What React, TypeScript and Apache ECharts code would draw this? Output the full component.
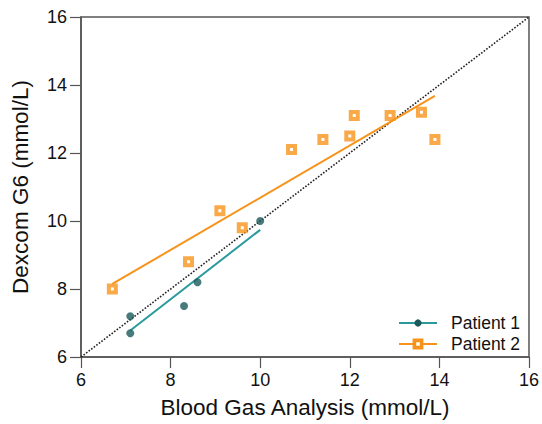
import React, { useEffect, useRef } from "react";
import * as echarts from "echarts";

const xTicks = [6, 8, 10, 12, 14, 16];
const yTicks = [6, 8, 10, 12, 14, 16];

const patient1: [number, number][] = [
  [7.1, 7.2],
  [7.1, 6.7],
  [8.3, 7.5],
  [8.6, 8.2],
  [10.0, 10.0],
];
const patient2: [number, number][] = [
  [6.7, 8.0],
  [8.4, 8.8],
  [9.1, 10.3],
  [9.6, 9.8],
  [10.7, 12.1],
  [11.4, 12.4],
  [12.0, 12.5],
  [12.1, 13.1],
  [12.9, 13.1],
  [13.6, 13.2],
  [13.9, 12.4],
];
const fit1: [number, number][] = [
  [7.1, 6.78],
  [10.0, 9.74],
];
const fit2: [number, number][] = [
  [6.7, 8.15],
  [13.9, 13.68],
];
const identity: [number, number][] = [
  [6, 6],
  [16, 16],
];

const TEAL_LINE = "#2a9a9c";
const TEAL_DOT = "#1c5a5c";
const ORANGE = "#f7931a";
const FONT = "Liberation Sans, Arial, sans-serif";

export default function App() {
  const ref = useRef<HTMLDivElement>(null);
  useEffect(() => {
    if (!ref.current) return;
    const chart = echarts.init(ref.current, undefined, { renderer: "svg" });
    const axisCommon = {
      type: "value" as const,
      interval: 2,
      nameLocation: "middle" as const,
      nameTextStyle: { fontSize: 22.5, color: "#111", fontFamily: FONT },
      axisLine: { show: true, lineStyle: { color: "#555", width: 1.5 } },
      axisTick: { show: true, length: 11, lineStyle: { color: "#555", width: 1.2 } },
      axisLabel: { fontSize: 18, color: "#111", fontFamily: FONT, margin: 14 },
      splitLine: { show: false },
    };
    chart.setOption({
      animation: false,
      backgroundColor: "#ffffff",
      grid: {
        left: 81,
        right: 11,
        top: 17,
        bottom: 66,
        show: true,
        borderColor: "#555",
        borderWidth: 1.5,
      },
      xAxis: {
        ...axisCommon,
        min: xTicks[0],
        max: xTicks[xTicks.length - 1],
        name: "Blood Gas Analysis (mmol/L)",
        nameGap: 39,
      },
      yAxis: {
        ...axisCommon,
        min: yTicks[0],
        max: yTicks[yTicks.length - 1],
        name: "Dexcom G6 (mmol/L)",
        nameGap: 49,
      },
      legend: [
        {
          orient: "vertical",
          left: 393,
          top: 309,
          itemWidth: 38,
          itemHeight: 9,
          textStyle: { fontSize: 17.5, color: "#111", fontFamily: FONT, padding: [0, 0, 0, 9] },
          data: [
            {
              name: "Patient 1",
              itemStyle: { color: TEAL_DOT, borderWidth: 0 },
              lineStyle: { color: TEAL_LINE, width: 2 },
            },
          ],
        },
        {
          orient: "vertical",
          left: 393,
          top: 330,
          itemWidth: 38,
          itemHeight: 9,
          textStyle: { fontSize: 17.5, color: "#111", fontFamily: FONT, padding: [0, 0, 0, 9] },
          data: [
            {
              name: "Patient 2",
              itemStyle: { color: "#fff", borderColor: ORANGE, borderWidth: 3.6 },
              lineStyle: { color: ORANGE, width: 2 },
            },
          ],
        },
      ],
      series: [
        {
          name: "identity",
          type: "line",
          data: identity,
          showSymbol: false,
          silent: true,
          lineStyle: { color: "#222", width: 1.6, type: "dotted" },
          z: 1,
        },
        {
          name: "Patient 1",
          type: "line",
          data: fit1,
          showSymbol: false,
          symbol: "circle",
          itemStyle: { color: TEAL_DOT },
          lineStyle: { color: TEAL_LINE, width: 2 },
          z: 2,
        },
        {
          name: "Patient 2",
          type: "line",
          data: fit2,
          showSymbol: false,
          symbol: "rect",
          itemStyle: { color: "#fff", borderColor: ORANGE, borderWidth: 3 },
          lineStyle: { color: ORANGE, width: 2 },
          z: 2,
        },
        {
          name: "Patient 1 points",
          type: "scatter",
          data: patient1,
          symbol: "circle",
          symbolSize: 8,
          itemStyle: { color: TEAL_DOT },
          z: 3,
        },
        {
          name: "Patient 2 points",
          type: "scatter",
          data: patient2,
          symbol: "rect",
          symbolSize: 7,
          itemStyle: { color: "#fff", borderColor: ORANGE, borderWidth: 4 },
          z: 3,
        },
      ],
    });
    return () => chart.dispose();
  }, []);
  return <div ref={ref} style={{ width: 542, height: 424, position: "absolute", left: 0, top: 0 }} />;
}
